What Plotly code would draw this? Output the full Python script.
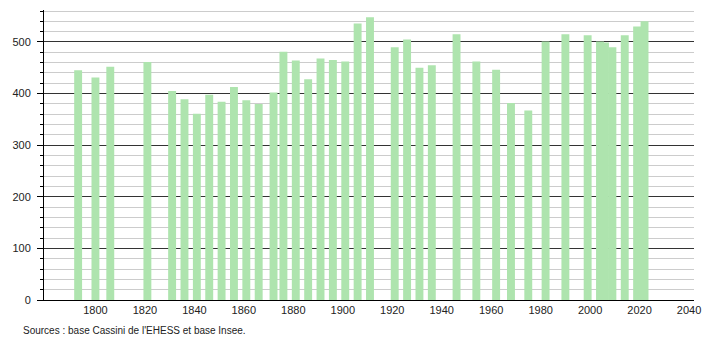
import plotly.graph_objects as go

years = [1793, 1800, 1806, 1821, 1831, 1836, 1841, 1846, 1851, 1856, 1861, 1866,
         1872, 1876, 1881, 1886, 1891, 1896, 1901, 1906, 1911, 1921, 1926, 1931,
         1936, 1946, 1954, 1962, 1968, 1975, 1982, 1990, 1999, 2004, 2006, 2009,
         2014, 2019, 2022]
population = [445, 431, 452, 461, 405, 389, 361, 398, 384, 413, 387, 380,
              402, 481, 464, 428, 468, 465, 462, 536, 548, 490, 505, 450,
              455, 515, 462, 446, 382, 367, 501, 515, 513, 501, 499, 490,
              513, 530, 540]
x_ticks = list(range(1800, 2041, 20))
y_ticks = [0, 100, 200, 300, 400, 500]
source_text = "Sources : base Cassini de l'EHESS et base Insee."

W, H = 710, 340
ML, MR, MT, MB = 44, 9, 10, 40
plot_w = W - ML - MR
plot_h = H - MT - MB

fig = go.Figure()
fig.add_trace(go.Bar(
    x=years, y=population, width=3.2,
    marker=dict(color="rgb(174,228,174)", line=dict(width=0)),
    hoverinfo="x+y",
))

font = "Liberation Sans, Arial, sans-serif"
fig.update_layout(
    width=W, height=H,
    margin=dict(l=ML, r=MR, t=MT, b=MB),
    paper_bgcolor="white", plot_bgcolor="white",
    showlegend=False,
    font=dict(family=font, size=11, color="#222"),
    xaxis=dict(
        range=[1779.2, 2042], tickvals=x_ticks, ticks="",
        showgrid=False, showline=True, linecolor="black", linewidth=1,
        zeroline=False, tickfont=dict(size=11, color="#222"),
    ),
    yaxis=dict(
        range=[0, 562], tickvals=y_ticks, ticks="outside", ticklen=6,
        tickcolor="black", showline=True, linecolor="black", linewidth=1,
        showgrid=True, gridcolor="#333", gridwidth=1, zeroline=False,
        ticklabelstandoff=4,
        tickfont=dict(size=11, color="#222"),
        minor=dict(dtick=20, tick0=0, showgrid=True, gridcolor="#cccccc",
                   gridwidth=1, ticks="outside", ticklen=3, tickcolor="black"),
    ),
    annotations=[dict(
        text=source_text, xref="paper", yref="paper",
        x=(21 - ML) / plot_w, y=-(330 - (MT + plot_h)) / plot_h,
        xanchor="left", yanchor="middle", showarrow=False,
        font=dict(family=font, size=10, color="#222"),
    )],
)

fig.write_html("out.html")
